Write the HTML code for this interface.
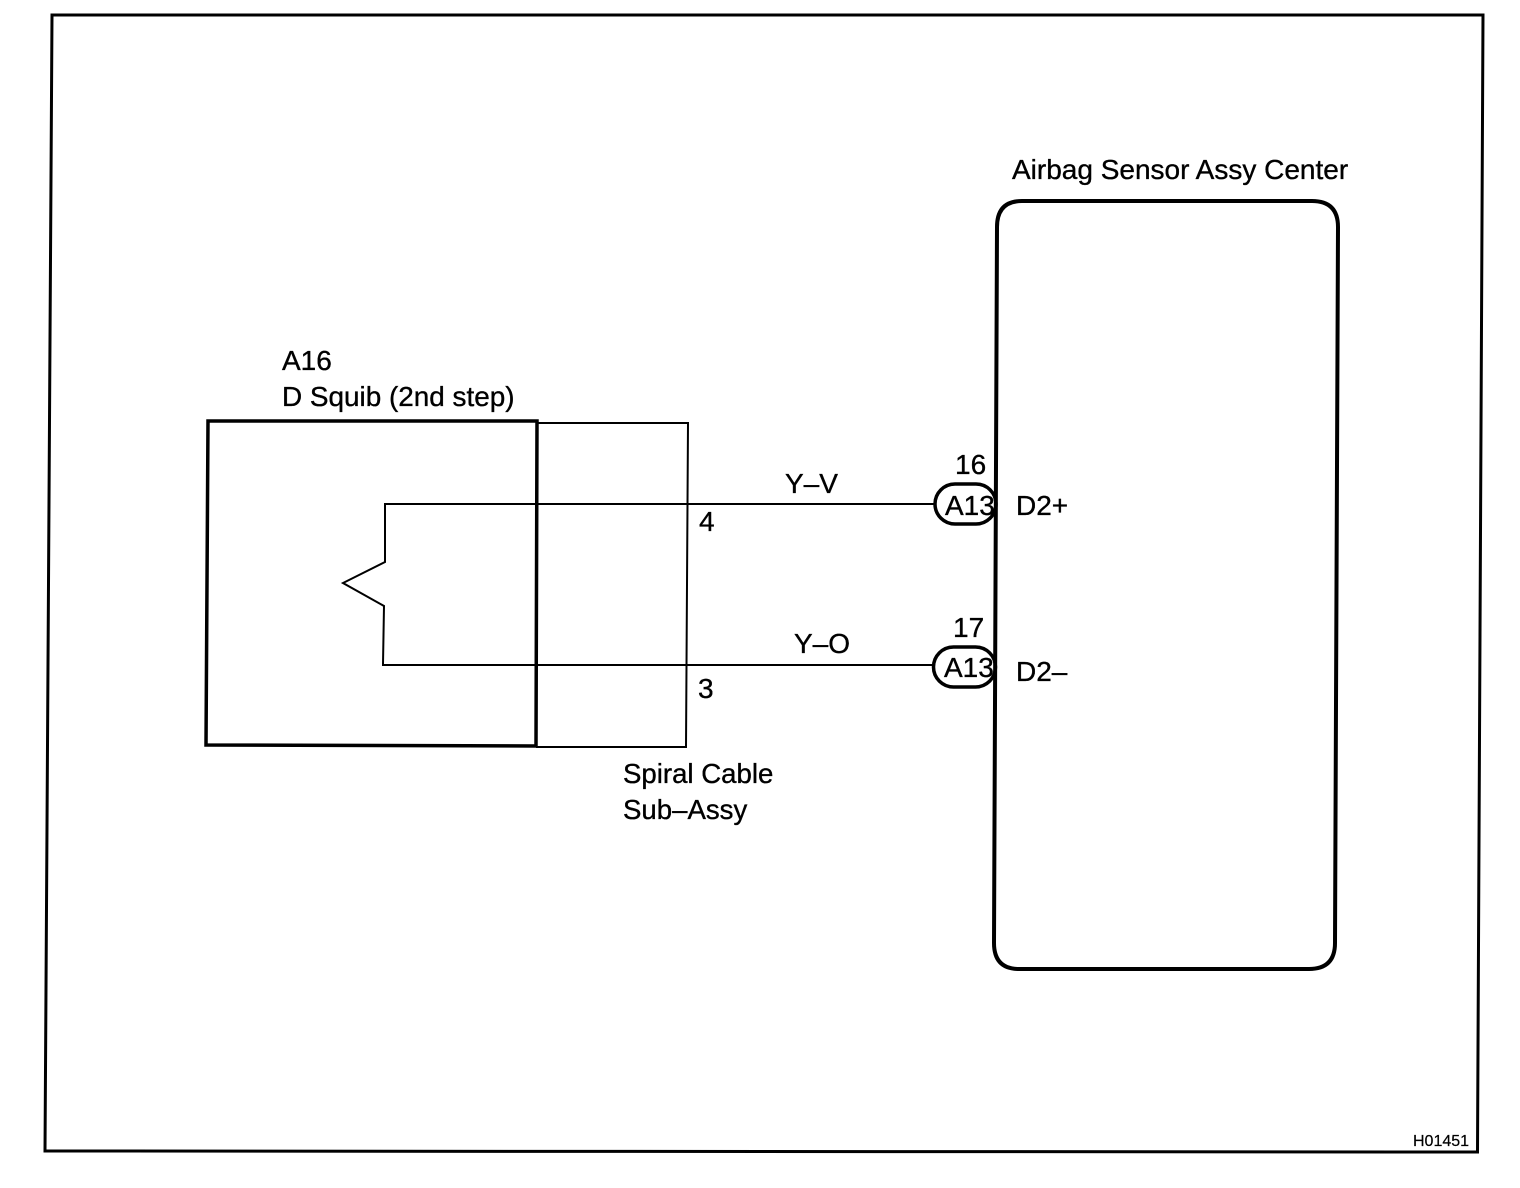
<!DOCTYPE html>
<html>
<head>
<meta charset="utf-8">
<style>
html,body{margin:0;padding:0;background:#fff;width:1520px;height:1188px;overflow:hidden}
svg{display:block}
text{font-family:"Liberation Sans",sans-serif;font-size:28px;fill:#000;stroke:#000;stroke-width:.35px}
</style>
</head>
<body>
<svg width="1520" height="1188" viewBox="0 0 1520 1188" xmlns="http://www.w3.org/2000/svg">
<g fill="none" stroke="#000">
<polygon points="52,15 1483,15 1477.5,1152 45,1151" stroke-width="3"/>
<path d="M1022,201 H1312 Q1338,201 1338,227 L1335,943 Q1335,969 1309,969 H1019 Q994,969 994,943 L997,227 Q997,201 1022,201 Z" stroke-width="4"/>
<polygon points="208,421 537,421 536,746 206,745" stroke-width="3.5"/>
<path d="M537,423 H688 L686,747 H536" stroke-width="2"/>
<path d="M385,504 H934 M385,503 V562 L343,583 L384,606 L383,664 V665 H932" stroke-width="2"/>
<rect x="935" y="484" width="61" height="40" rx="20" ry="20" stroke-width="3.5"/>
<rect x="933.500" y="647" width="62" height="40" rx="20" ry="20" stroke-width="3.5"/>
</g>
<text x="1012" y="179">Airbag Sensor Assy Center</text>
<text x="282" y="370">A16</text>
<text x="282" y="406" style="font-size:27.900px">D Squib (2nd step)</text>
<text x="955" y="474">16</text>
<text x="953" y="637">17</text>
<text x="785" y="493">Y–V</text>
<text x="794" y="653">Y–O</text>
<text x="699" y="531">4</text>
<text x="698" y="698">3</text>
<text x="945" y="515">A13</text>
<text x="944" y="677">A13</text>
<text x="1016" y="515">D2+</text>
<text x="1016" y="681">D2–</text>
<text x="623" y="783" style="font-size:27.600px">Spiral Cable</text>
<text x="623" y="819" style="font-size:27.600px">Sub–Assy</text>
<text x="1413" y="1146" style="font-size:16px;stroke-width:.2px">H01451</text>
</svg>
</body>
</html>
